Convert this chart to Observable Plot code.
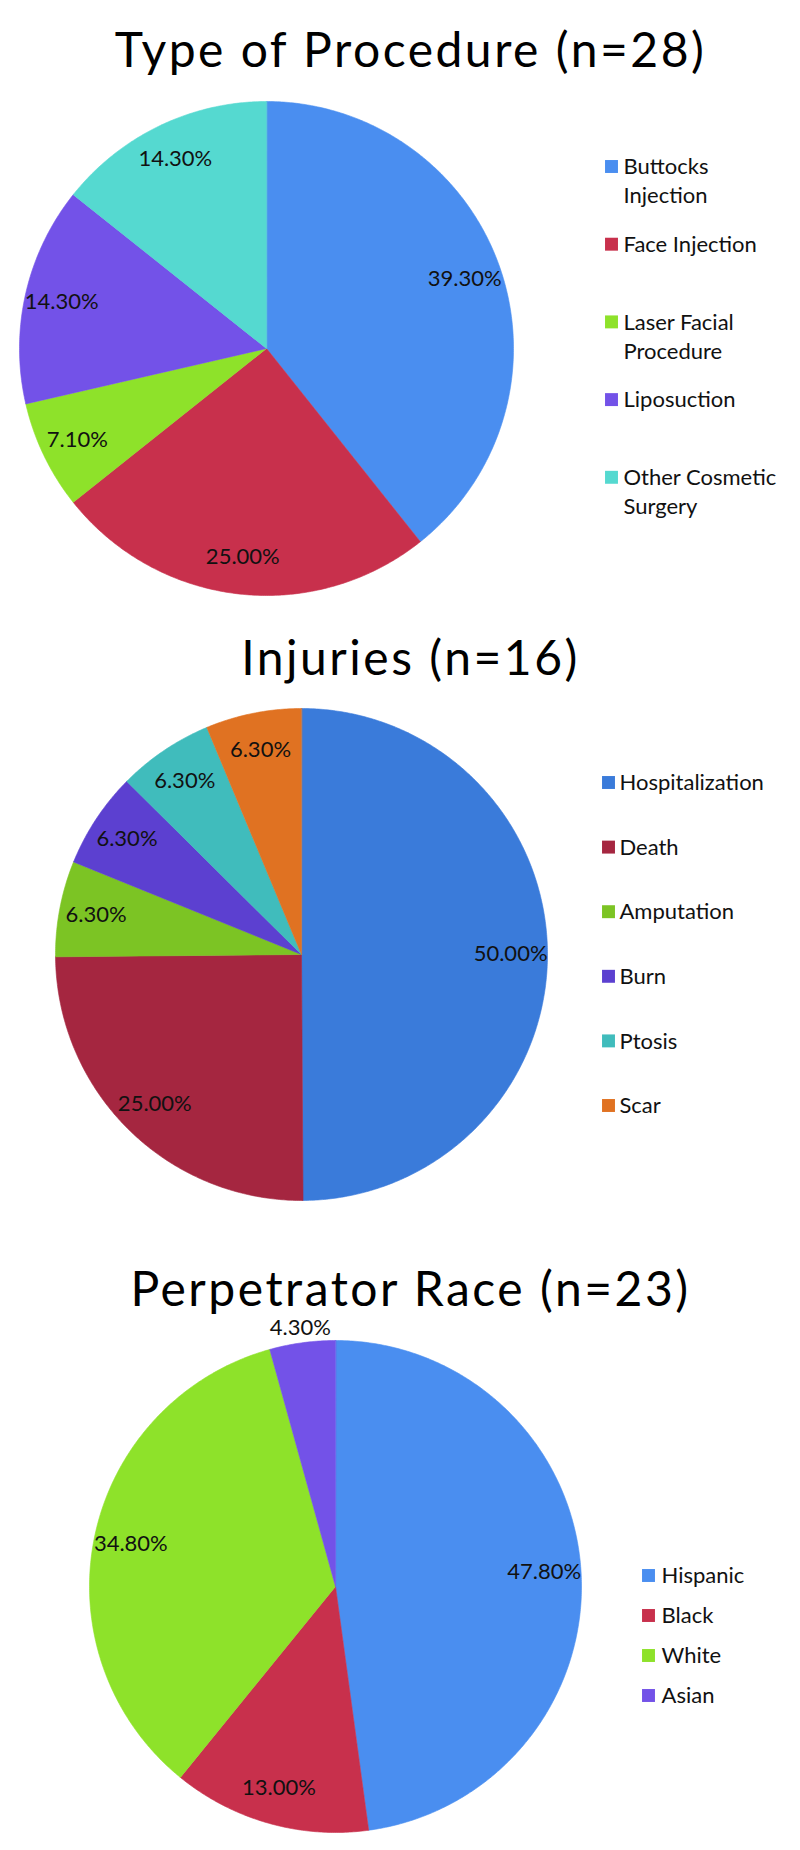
<!DOCTYPE html>
<html>
<head>
<meta charset="utf-8">
<script src="https://cdn.jsdelivr.net/npm/d3@7"></script>
<script src="https://cdn.jsdelivr.net/npm/@observablehq/plot@0.6"></script>
<style>
  body { margin: 0; background: #fff; }
  #charts { width: 800px; }
  #charts svg { display: block; }
</style>
</head>
<body>
<div id="charts"></div>
<script>
// ---- Chart 1: Type of Procedure ----
const procTitle = "Type of Procedure (n=28)";
const procCategories = ["Buttocks Injection", "Face Injection", "Laser Facial Procedure", "Liposuction", "Other Cosmetic Surgery"];
const procLegendText = ["Buttocks\nInjection", "Face Injection", "Laser Facial\nProcedure", "Liposuction", "Other Cosmetic\nSurgery"];
const procValues = [39.3, 25.0, 7.1, 14.3, 14.3];
const procColors = ["#4a8ef0", "#c8304c", "#8ee22a", "#7352e8", "#55d9d0"];

// ---- Chart 2: Injuries ----
const injTitle = "Injuries (n=16)";
const injCategories = ["Hospitalization", "Death", "Amputation", "Burn", "Ptosis", "Scar"];
const injValues = [50.0, 25.0, 6.3, 6.3, 6.3, 6.3];
const injColors = ["#3a7bda", "#a52640", "#7cc424", "#5c40d0", "#40bcbc", "#e07222"];

// ---- Chart 3: Perpetrator Race ----
const raceTitle = "Perpetrator Race (n=23)";
const raceCategories = ["Hispanic", "Black", "White", "Asian"];
const raceValues = [47.8, 13.0, 34.8, 4.3];
const raceColors = ["#4a8ef0", "#c8304c", "#8ee22a", "#7352e8"];

// layout (pixels within each chart's svg)
const layouts = [
  {h: 610, titleBase: 66, cx: 266, cy: 348, r: 247, swX: 611, txX: 623, legY0: 166, legStep: 77.7},
  {h: 620, titleBase: 64, cx: 301, cy: 344, r: 246, swX: 608, txX: 619, legY0: 172, legStep: 64.6},
  {h: 620, titleBase: 75, cx: 335, cy: 356, r: 246, swX: 648, txX: 661, legY0: 345, legStep: 40}
];

function pieChart(title, cats, legendText, values, colors, L) {
  const arcs = d3.pie().sort(null).value(d => d)(values);
  const poly = [];
  arcs.forEach((a, i) => {
    const n = Math.max(2, Math.ceil((a.endAngle - a.startAngle) / (Math.PI / 360)));
    poly.push({cat: cats[i], x: 0, y: 0});
    for (let k = 0; k <= n; k++) {
      const t = a.startAngle + (a.endAngle - a.startAngle) * k / n;
      poly.push({cat: cats[i], x: Math.sin(t), y: -Math.cos(t)});
    }
  });
  const labels = arcs.map((a, i) => {
    const m = (a.startAngle + a.endAngle) / 2;
    const k = values[i] < 5 ? 1.06 : 0.85;
    return {x: k * Math.sin(m), y: -k * Math.cos(m), text: values[i].toFixed(2) + "%"};
  });
  const legend = cats.map((c, i) => ({
    cat: c,
    text: legendText[i],
    x: (L.swX - L.cx) / L.r,
    tx: (L.txX - L.cx) / L.r,
    y: (L.legY0 + i * L.legStep - L.cy) / L.r
  }));
  const svg = Plot.plot({
    width: 800,
    height: L.h,
    margin: 0,
    x: {domain: [-1, 1], range: [L.cx - L.r, L.cx + L.r], axis: null},
    y: {domain: [-1, 1], range: [L.cy - L.r, L.cy + L.r], axis: null},
    color: {domain: cats, range: colors},
    style: {fontFamily: "Lato, sans-serif", background: "#fff", overflow: "visible"},
    marks: [
      Plot.line(poly, {x: "x", y: "y", z: "cat", fill: "cat", stroke: "cat", strokeWidth: 0.6, curve: "linear-closed"}),
      Plot.text(labels, {x: "x", y: "y", text: "text", fontSize: 22, fill: "#111", textAnchor: "middle", lineAnchor: "middle"}),
      Plot.dot(legend, {x: "x", y: "y", symbol: "square", r: 7.3, fill: "cat"}),
      Plot.text(legend, {x: "tx", y: "y", text: "text", fontSize: 22, textAnchor: "start", lineAnchor: "top", lineHeight: 1.32, dy: -13, fill: "#111"}),
      Plot.text([title], {text: d => d, frameAnchor: "top", dx: 10, dy: L.titleBase, lineAnchor: "bottom", fontSize: 48, fill: "#000"})
    ]
  });
  // widen the title tracking to match the reference typeface
  d3.select(svg).selectAll("text").filter(function() { return this.textContent === title; })
    .attr("letter-spacing", "2.5px");
  return svg;
}

const root = document.getElementById("charts");
root.append(pieChart(procTitle, procCategories, procLegendText, procValues, procColors, layouts[0]));
root.append(pieChart(injTitle, injCategories, injCategories, injValues, injColors, layouts[1]));
root.append(pieChart(raceTitle, raceCategories, raceCategories, raceValues, raceColors, layouts[2]));
</script>
</body>
</html>
